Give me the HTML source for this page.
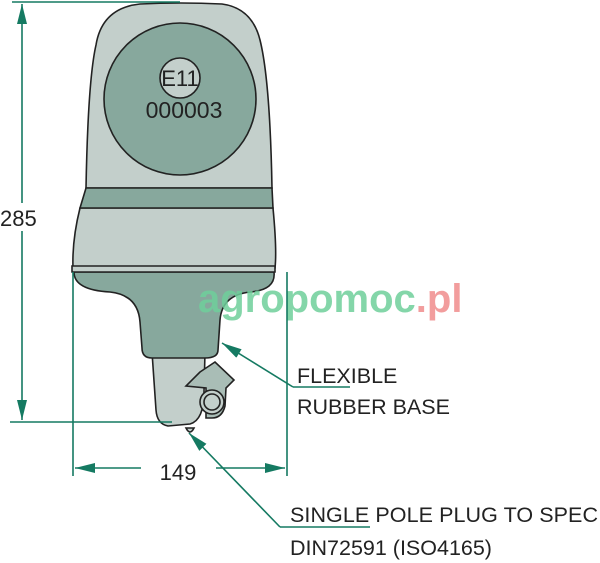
<!DOCTYPE html>
<html><head><meta charset="utf-8"><style>
html,body{margin:0;padding:0;background:#fff}
svg{display:block}
text{font-family:"Liberation Sans",sans-serif}
</style></head><body>
<svg width="600" height="563" viewBox="0 0 600 563" xmlns="http://www.w3.org/2000/svg">
<defs>
<marker id="ar" viewBox="0 0 20 10" refX="20" refY="5" markerWidth="20" markerHeight="10" orient="auto-start-reverse" markerUnits="userSpaceOnUse"><path d="M0,0 L20,5 L0,10 z" fill="#157a62"/></marker>
</defs>
<g stroke="#222" stroke-width="1.6">
<path d="M152,352 L205,352 L204,392 Q204,420 190,424 L168,426 Q157,424 156,410 Z" fill="#c3cfcb"/>
<path d="M186,428 Q190,436 194,428 Z" fill="#c3cfcb"/>
<path d="M200,372 L215,362 L234,380 L226,388 L225,406 Q222,418 212,418 L206,418 L206,388 L186,386 Z" fill="#a9bdb6"/>
<circle cx="212" cy="402" r="12" fill="#c3cfcb"/>
<circle cx="212" cy="402" r="8" fill="#c3cfcb"/>
<path d="M74,272 L274,272 Q276,290 250,292 Q222,295 220,320 L218,350 Q218,358 205,358 L152,358 Q142,358 142,348 L140,322 Q138,295 110,292 Q74,290 74,272 Z" fill="#87a89d"/>
<path d="M80,208 L273,208 Q277,250 275,268 L73,268 Q72,240 80,208 Z" fill="#c3cfcb"/>
<path d="M86,188 Q88,80 96,45 Q102,8 140,4 Q180,2 222,4 Q252,8 260,40 Q270,80 272,188 Z" fill="#c3cfcb"/>
<path d="M86,188 L272,188 L273,208 L80,208 Z" fill="#87a89d"/>
<path d="M72,266 L275,266 L275,272 L72,272 Z" fill="#c3cfcb"/>
<circle cx="180" cy="99" r="76" fill="#87a89d"/>
<circle cx="180" cy="78" r="20" fill="#c3cfcb"/>
</g>
<text x="180" y="86" font-size="22" text-anchor="middle" fill="#222">E11</text>
<text x="184" y="118" font-size="23" text-anchor="middle" fill="#222">000003</text>
<text x="198" y="312" font-size="40" font-weight="bold" fill="#6fcf9b" opacity="0.85">agropomoc<tspan fill="#f08c8c">.pl</tspan></text>
<g stroke="#157a62" stroke-width="1.6" fill="none">
<line x1="12" y1="2" x2="180" y2="2"/>
<line x1="10" y1="422" x2="172" y2="422"/>
<line x1="22" y1="4" x2="22" y2="420" marker-start="url(#ar)" marker-end="url(#ar)"/>
<line x1="73" y1="272" x2="73" y2="476"/>
<line x1="287" y1="272" x2="287" y2="476"/>
<line x1="75" y1="468" x2="141" y2="468" marker-start="url(#ar)"/>
<line x1="216" y1="468" x2="285" y2="468" marker-end="url(#ar)"/>
<line x1="350" y1="387" x2="293" y2="387"/>
<line x1="293" y1="387" x2="222" y2="343" marker-end="url(#ar)"/>
<line x1="370" y1="527" x2="280" y2="527"/>
<line x1="280" y1="527" x2="189" y2="433" marker-end="url(#ar)"/>
</g>
<rect x="0" y="203" width="44" height="28" fill="#fff"/>
<text x="0" y="226" font-size="22" fill="#222">285</text>
<text x="178" y="480" font-size="22" text-anchor="middle" fill="#222">149</text>
<text x="297" y="383" font-size="21.5" fill="#222">FLEXIBLE</text>
<text x="297" y="414" font-size="21.5" fill="#222">RUBBER BASE</text>
<text x="290" y="522" font-size="21.5" textLength="308" fill="#222">SINGLE POLE PLUG TO SPEC</text>
<text x="290" y="555" font-size="21.5" fill="#222">DIN72591 (ISO4165)</text>
</svg>
</body></html>
